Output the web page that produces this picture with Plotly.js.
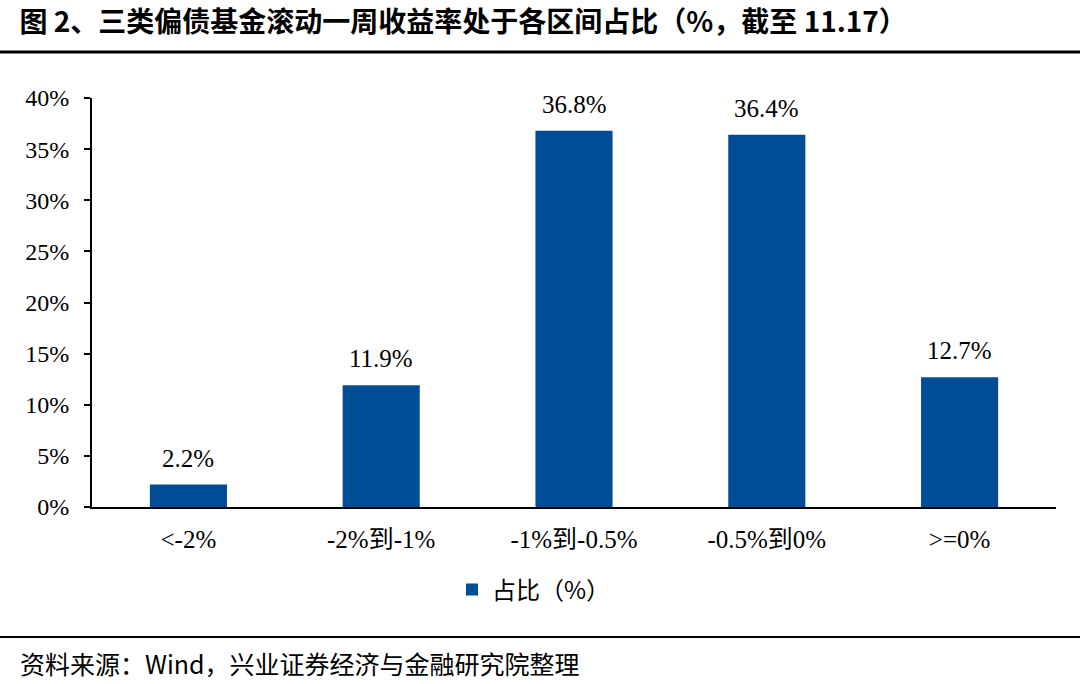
<!DOCTYPE html>
<html><head><meta charset="utf-8">
<script src="https://cdn.plot.ly/plotly-3.0.1.min.js"></script>
<style>body{margin:0;background:#fff}#c{width:1080px;height:684px}</style>
</head><body><div id="c"></div>
<script>
const categories = ['<-2%', '-2%到-1%', '-1%到-0.5%', '-0.5%到0%', '>=0%'];
const shares = [2.2, 11.9, 36.8, 36.4, 12.7];
const seriesName = '占比（%）';
const yTicks = [0, 5, 10, 15, 20, 25, 30, 35, 40];

const serif = '"Liberation Serif", "Times New Roman", serif';
const cjk = '"Noto Sans CJK SC", sans-serif';

const trace = {
  type: 'bar', x: categories, y: shares, name: seriesName,
  marker: {color: '#004C97'}, width: 0.4
};

const labels = categories.map((c, i) => ({
  x: c, y: shares[i], xref: 'x', yref: 'y', text: shares[i].toFixed(1) + '%',
  showarrow: false, yanchor: 'bottom', yshift: 11,
  font: {family: serif, size: 25, color: '#000'}
}));

const layout = {
  width: 1080, height: 684,
  margin: {l: 92, r: 24, t: 98, b: 177},
  paper_bgcolor: '#fff', plot_bgcolor: '#fff',
  font: {family: serif, color: '#000'},
  title: {text: '<b>图 2、三类偏债基金滚动一周收益率处于各区间占比（%，截至 11.17）</b>',
    font: {family: cjk, size: 28, color: '#000'},
    x: 0.018, xanchor: 'left', xref: 'container', y: 1 - 22/684, yanchor: 'middle', yref: 'container'},
  xaxis: {showline: true, linecolor: '#000', linewidth: 2, ticks: '', showgrid: false,
    tickfont: {family: serif + ', ' + cjk, size: 25, color: '#000'}, ticklabelstandoff: 9},
  yaxis: {range: [0, 40], tickvals: yTicks, ticktext: yTicks.map(v => v + '%'),
    showline: true, linecolor: '#000', linewidth: 2, ticks: 'outside', ticklen: 6, tickwidth: 2, tickcolor: '#000',
    showgrid: false, zeroline: false, tickfont: {family: serif, size: 24, color: '#000'}, ticklabelstandoff: 10},
  showlegend: true,
  legend: {orientation: 'h', x: 0.5 - 40/964, xanchor: 'center', y: (507-590)/409, yanchor: 'middle',
    font: {family: cjk, size: 24, color: '#000'}},
  annotations: labels.concat([{text: '资料来源：Wind，兴业证券经济与金融研究院整理', xref: 'paper', yref: 'paper',
    x: (18-92)/964, xanchor: 'left', y: (507-663)/409, yanchor: 'middle', showarrow: false,
    font: {family: cjk, size: 25, color: '#000'}}]),
  shapes: [
    {type: 'line', xref: 'paper', yref: 'paper', x0: -92/964, x1: (1080-92)/964, y0: (507-52)/409, y1: (507-52)/409,
      line: {color: '#000', width: 3}},
    {type: 'line', xref: 'paper', yref: 'paper', x0: -92/964, x1: (1080-92)/964, y0: (507-637)/409, y1: (507-637)/409,
      line: {color: '#000', width: 2}}
  ]
};
Plotly.newPlot('c', [trace], layout, {displayModeBar: false, staticPlot: true});
</script></body></html>
